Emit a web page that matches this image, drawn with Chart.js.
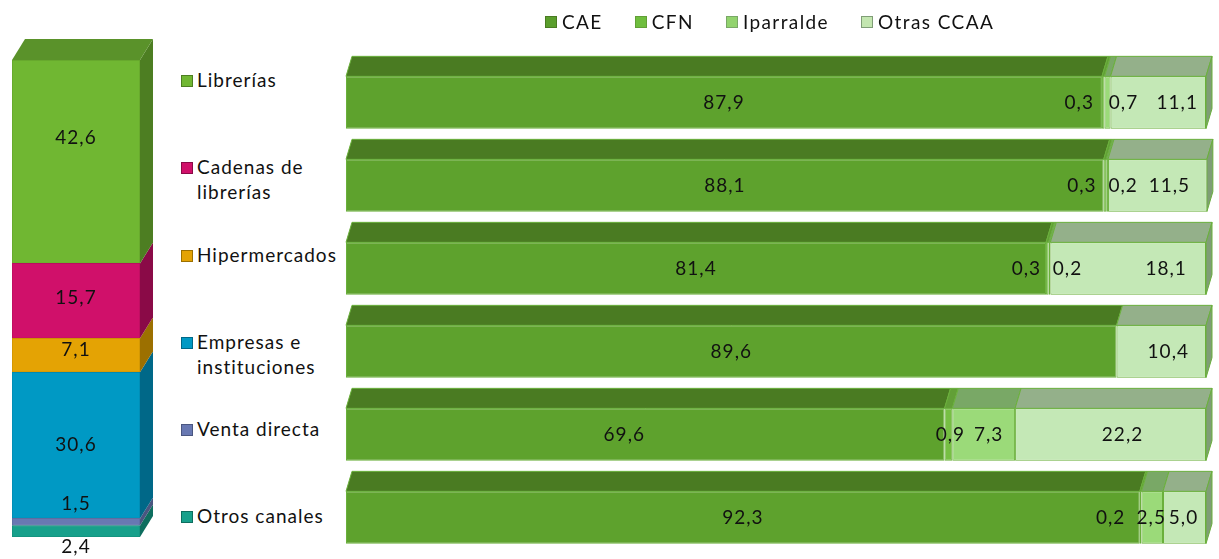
<!DOCTYPE html>
<html>
<head>
<meta charset="utf-8">
<script src="https://cdn.jsdelivr.net/npm/chart.js@4/dist/chart.umd.min.js"></script>
<style>
  html,body{margin:0;padding:0;background:#fff;}
  body{width:1219px;height:559px;position:relative;overflow:hidden;font-family:Lato,"Open Sans",sans-serif;color:#111;}
  canvas{position:absolute;top:0;}
  #leftCanvas{left:0;}
  #rightCanvas{left:340px;}
  #topLegend{position:absolute;left:545px;top:10px;display:flex;gap:32px;font-size:19px;line-height:24px;letter-spacing:1.4px;}
  #topLegend .it{display:flex;align-items:center;}
  .sw{display:inline-block;width:10px;height:10px;margin-right:5px;}
  #sideLegend{position:absolute;left:181px;top:67px;font-size:19px;line-height:25px;letter-spacing:1px;}
  #sideLegend .it{height:87.3px;display:flex;align-items:flex-start;}
  #sideLegend .sw{margin-top:8px;margin-right:4px;flex:none;}
</style>
</head>
<body>
<canvas id="leftCanvas" width="175" height="559"></canvas>
<canvas id="rightCanvas" width="879" height="559"></canvas>
<div id="topLegend"></div>
<div id="sideLegend"></div>
<script>
// ---------- DATA ----------
const channels = [['Librerías'], ['Cadenas de', 'librerías'], ['Hipermercados'], ['Empresas e', 'instituciones'], ['Venta directa'], ['Otros canales']];
const channelShares = [42.6, 15.7, 7.1, 30.6, 1.5, 2.4];
const regions = ['CAE', 'CFN', 'Iparralde', 'Otras CCAA'];
const caeValues = [87.9, 88.1, 81.4, 89.6, 69.6, 92.3];
const cfnValues = [0.3, 0.3, 0.3, 0, 0.9, 0.2];
const iparraldeValues = [0.7, 0.2, 0.2, 0, 7.3, 2.5];
const otrasValues = [11.1, 11.5, 18.1, 10.4, 22.2, 5.0];

// ---------- STYLES ----------
const channelFront = ['#70B732', '#D0106A', '#E4A304', '#0099C4', '#6878B2', '#17A08B'];
const channelSide  = ['#4D7E22', '#8A0A47', '#9C7000', '#006888', '#4A5680', '#0E6E5F'];
const channelTop   = ['#5A922A', '#A00D53', '#B07F02', '#007AA0', '#56649A', '#118472'];
const channelBorder= ['#64A52C', '#BA0E5F', '#CC9203', '#008AB0', '#5E6CA0', '#14907D'];
const channelLabelDy = [-24, -3, -5, 0, -18, 16];

const regionFront = ['#5EA22D', '#76BF43', '#9BDA79', '#C4E8B6'];
const regionTop   = ['#4A7B22', '#629F37', '#79A866', '#94B08A'];
const regionSide  = ['#4A7B22', '#629F37', '#79A866', '#7F9D76'];
const regionLegend= ['#5A9E2C', '#6FBE3E', '#92D36E', '#C3E6B0'];
const barBorder = '#6AB03B';
// per bar, per series horizontal label nudges (px)
const regionLabelDx = [
  [0, -24, 16, 19],
  [0, -23, 16, 12],
  [0, -21, 18, 38],
  [0, 0, 0, 7],
  [-21, 2, 5, 12],
  [0, -30, -1, -1]
];
const fontFamily = 'Lato, "Open Sans", sans-serif';
const labelFont = '19px ' + fontFamily;
const fmt = v => v.toFixed(1).replace('.', ',');

function drawLabel(ctx, text, x, y) {
  ctx.save();
  ctx.fillStyle = '#111';
  ctx.font = labelFont;
  if ('letterSpacing' in ctx) ctx.letterSpacing = '1px';
  ctx.textAlign = 'center'; ctx.textBaseline = 'middle';
  ctx.fillText(text, x, y);
  ctx.restore();
}

// ---------- LEGENDS (HTML text) ----------
const topLegend = document.getElementById('topLegend');
regions.forEach((r, i) => {
  const d = document.createElement('div'); d.className = 'it';
  d.innerHTML = '<span class="sw" style="background:' + regionLegend[i] + ';border:1px solid ' + regionSide[i] + '"></span>' + r;
  topLegend.appendChild(d);
});
const sideLegend = document.getElementById('sideLegend');
channels.forEach((c, i) => {
  const d = document.createElement('div'); d.className = 'it';
  d.innerHTML = '<span class="sw" style="background:' + channelFront[i] + ';border:1px solid ' + channelSide[i] + '"></span><span>' + c.join('<br>') + '</span>';
  sideLegend.appendChild(d);
});

// ---------- LEFT COLUMN ----------
const order = [5, 4, 3, 2, 1, 0]; // bottom to top
const leftDepth = {dx: 13, dy: 21};
const column3D = {
  id: 'column3D',
  afterDatasetsDraw(chart) {
    const ctx = chart.ctx;
    const n = chart.data.datasets.length;
    chart.data.datasets.forEach((ds, di) => {
      const el = chart.getDatasetMeta(di).data[0];
      const ci = ds.channelIndex;
      const x1 = el.x - el.width / 2, x2 = el.x + el.width / 2;
      const yT = el.y, yB = el.base;
      ctx.save();
      ctx.fillStyle = channelSide[ci];
      ctx.beginPath();
      ctx.moveTo(x2, yT); ctx.lineTo(x2 + leftDepth.dx, yT - leftDepth.dy);
      ctx.lineTo(x2 + leftDepth.dx, yB - leftDepth.dy); ctx.lineTo(x2, yB);
      ctx.closePath(); ctx.fill();
      if (di === n - 1) {
        ctx.fillStyle = channelTop[ci];
        ctx.beginPath();
        ctx.moveTo(x1, yT); ctx.lineTo(x1 + leftDepth.dx, yT - leftDepth.dy);
        ctx.lineTo(x2 + leftDepth.dx, yT - leftDepth.dy); ctx.lineTo(x2, yT);
        ctx.closePath(); ctx.fill();
      }
      ctx.restore();
    });
    chart.data.datasets.forEach((ds, di) => {
      const el = chart.getDatasetMeta(di).data[0];
      drawLabel(ctx, fmt(ds.data[0]), el.x, (el.y + el.base) / 2 + channelLabelDy[ds.channelIndex]);
    });
  }
};
new Chart(document.getElementById('leftCanvas'), {
  type: 'bar',
  data: {
    labels: ['Canales'],
    datasets: order.map(ci => ({
      label: channels[ci].join(' '),
      channelIndex: ci,
      data: [channelShares[ci]],
      backgroundColor: channelFront[ci],
      borderColor: channelBorder[ci],
      borderWidth: 1,
      borderSkipped: false,
      barPercentage: 1,
      categoryPercentage: 1
    }))
  },
  options: {
    responsive: false, animation: false, devicePixelRatio: 1,
    layout: {padding: {left: 12, right: 35, top: 60, bottom: 22}},
    plugins: {legend: {display: false}, tooltip: {enabled: false}},
    scales: {
      x: {stacked: true, display: false},
      y: {stacked: true, display: false, min: 0, max: channelShares.reduce((a, b) => a + b, 0)}
    }
  },
  plugins: [column3D]
});

// ---------- RIGHT BARS ----------
const seriesValues = [caeValues, cfnValues, iparraldeValues, otrasValues];
const rightDepth = {dx: 6, dy: 20};
const bars3D = {
  id: 'bars3D',
  afterDatasetsDraw(chart) {
    const ctx = chart.ctx;
    const nCat = chart.data.labels.length;
    for (let j = 0; j < nCat; j++) {
      let last = null, lastSi = -1;
      chart.data.datasets.forEach((ds, si) => {
        const el = chart.getDatasetMeta(si).data[j];
        if (!ds.data[j]) return;
        const x1 = el.base, x2 = el.x, yT = el.y - el.height / 2;
        ctx.save();
        ctx.fillStyle = regionTop[si];
        ctx.strokeStyle = barBorder; ctx.lineWidth = 1;
        ctx.beginPath();
        ctx.moveTo(x1, yT); ctx.lineTo(x1 + rightDepth.dx, yT - rightDepth.dy);
        ctx.lineTo(x2 + rightDepth.dx, yT - rightDepth.dy); ctx.lineTo(x2, yT);
        ctx.closePath(); ctx.fill(); ctx.stroke();
        ctx.restore();
        last = el; lastSi = si;
      });
      if (last) {
        const x = last.x, yT = last.y - last.height / 2, yB = last.y + last.height / 2;
        ctx.save();
        ctx.fillStyle = regionSide[lastSi];
        ctx.strokeStyle = barBorder; ctx.lineWidth = 1;
        ctx.beginPath();
        ctx.moveTo(x, yT); ctx.lineTo(x + rightDepth.dx, yT - rightDepth.dy);
        ctx.lineTo(x + rightDepth.dx, yB - rightDepth.dy); ctx.lineTo(x, yB);
        ctx.closePath(); ctx.fill(); ctx.stroke();
        ctx.restore();
      }
    }
    chart.data.datasets.forEach((ds, si) => {
      chart.getDatasetMeta(si).data.forEach((el, j) => {
        const v = ds.data[j];
        if (!v) return;
        drawLabel(ctx, fmt(v), (el.x + el.base) / 2 + regionLabelDx[j][si], el.y);
      });
    });
  }
};
new Chart(document.getElementById('rightCanvas'), {
  type: 'bar',
  data: {
    labels: channels.map(c => c.join(' ')),
    datasets: regions.map((r, si) => ({
      label: r,
      data: seriesValues[si],
      backgroundColor: regionFront[si],
      borderColor: barBorder,
      borderWidth: 1,
      borderSkipped: false,
      barPercentage: 0.63,
      categoryPercentage: 1
    }))
  },
  options: {
    indexAxis: 'y',
    responsive: false, animation: false, devicePixelRatio: 1,
    layout: {padding: {left: 6, right: 13, top: 61, bottom: 0}},
    plugins: {legend: {display: false}, tooltip: {enabled: false}},
    scales: {
      x: {stacked: true, display: false, min: 0, max: 100},
      y: {stacked: true, display: false}
    }
  },
  plugins: [bars3D]
});
</script>
</body>
</html>
